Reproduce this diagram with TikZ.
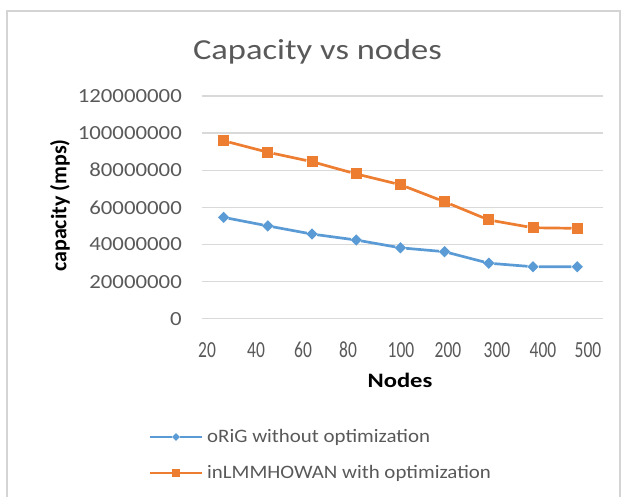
\documentclass[tikz,border=0pt]{standalone}
\usepackage{fontspec}
\setmainfont{Carlito}
\newfontfamily\titlefont[FakeStretch=1.19]{Carlito}
\newfontfamily\tickfont[FakeStretch=1.14]{Carlito}
\newfontfamily\catfont[FakeStretch=0.76]{Carlito}
\newfontfamily\legfont[FakeStretch=1.1]{Carlito}
\newfontfamily\axfont[FakeStretch=1.2]{Carlito}
\usetikzlibrary{shapes.geometric}
\definecolor{seriesA}{HTML}{5B9BD5}
\definecolor{seriesB}{HTML}{ED7D31}
\definecolor{txtgray}{HTML}{595959}
\definecolor{gridgray}{HTML}{D9D9D9}
\definecolor{framegray}{HTML}{D4D4D4}
\tikzset{
  ylab/.style={anchor=east,inner sep=0pt,text=txtgray,font=\tickfont\fontsize{20}{20}\selectfont},
  xlab/.style={inner sep=0pt,text=txtgray,font=\catfont\fontsize{23}{23}\selectfont},
  legtext/.style={anchor=west,inner sep=0pt,text=txtgray,font=\legfont\fontsize{19}{19}\selectfont},
  markA/.style={diamond,fill=seriesA,inner sep=0pt,minimum size=11.5pt},
  markB/.style={rectangle,fill=seriesB,inner sep=0pt,minimum size=11pt},
  lineA/.style={seriesA,line width=2.7pt},
  lineB/.style={seriesB,line width=2.7pt},
}
\begin{document}
\begin{tikzpicture}[x=1pt,y=-1pt]
  \useasboundingbox (0,0) rectangle (622,497);
  % frame of the chart area
  \draw[framegray,line width=1.5pt] (7,510) -- (7,11) -- (620,11) -- (620,510);

  % title
  \node[anchor=base,text=txtgray,font=\titlefont\fontsize{29}{29}\selectfont] (title) at (317.5,59.3) {Capacity vs nodes};

  % grid and y labels
  \foreach \v/\txt in {0/0,20/20000000,40/40000000,60/60000000,80/80000000,100/100000000,120/120000000}{
    \draw[gridgray,line width=1.3pt] (201.5,318.7-1.8558*\v) -- (603,318.7-1.8558*\v);
    \node[ylab] (y\v) at (182,318.7-1.8558*\v) {\txt};
  }

  % x labels
  \foreach \i/\px/\txt in {1/207/20,2/256/40,3/303/60,4/348/80,5/401/100,6/448/200,7/497/300,8/543/400,9/588/500}{
    \node[xlab] (x\i) at (\px,350) {\txt};
  }

  % axis titles
  \node[font=\axfont\bfseries\fontsize{20.5}{20.5}\selectfont] (xtitle) at (400,380) {Nodes};
  \node[rotate=90,font=\bfseries\fontsize{22}{22}\selectfont] (ytitle) at (60,205.5) {capacity (mps)};

  % data points
  \foreach \i/\a/\b in {1/54.6/95.9,2/50/89.7,3/45.6/84.6,4/42.4/78,5/38.2/72.2,6/36.1/63,7/29.9/53.2,8/28/49,9/28/48.7}{
    \node[markA] (a\i) at (223.6+44.2*\i-44.2,318.7-1.8558*\a) {};
    \node[markB] (b\i) at (223.6+44.2*\i-44.2,318.7-1.8558*\b) {};
  }
  \draw[lineA] (a1) -- (a2) -- (a3) -- (a4) -- (a5) -- (a6) -- (a7) -- (a8) -- (a9);
  \draw[lineB] (b1) -- (b2) -- (b3) -- (b4) -- (b5) -- (b6) -- (b7) -- (b8) -- (b9);

  % legend
  \coordinate (la1) at (150,437);
  \coordinate (la2) at (202,437);
  \node[markA,minimum size=8pt] (lma) at (176,437) {};
  \draw[lineA,line width=2.2pt] (la1) -- (lma) -- (la2);
  \node[legtext] (lta) at (207,437) {oRiG without optimization};
  \coordinate (lb1) at (150,473);
  \coordinate (lb2) at (202,473);
  \node[markB,minimum size=8pt] (lmb) at (176,473) {};
  \draw[lineB,line width=2.2pt] (lb1) -- (lmb) -- (lb2);
  \node[legtext] (ltb) at (207,473) {inLMMHOWAN with optimization};
\end{tikzpicture}
\end{document}
